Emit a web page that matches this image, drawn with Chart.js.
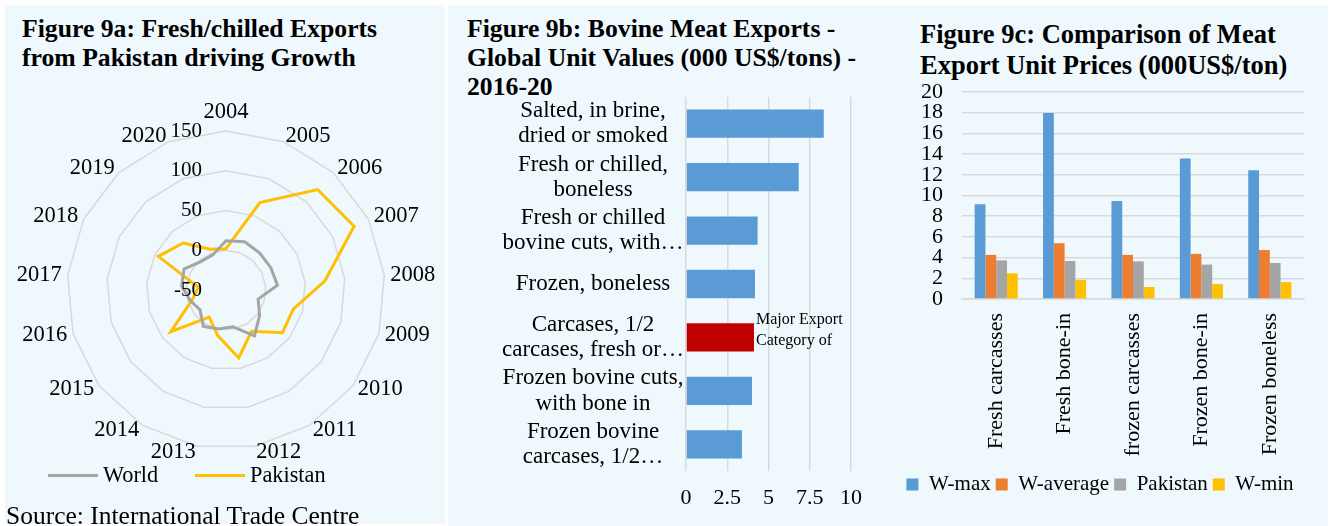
<!DOCTYPE html>
<html lang="en">
<head>
<meta charset="UTF-8">
<title>Figure 9a-9c</title>
<script src="https://cdn.jsdelivr.net/npm/chart.js"></script>
<style>
  body { margin: 0; background: #fff; width: 1333px; height: 526px; position: relative; overflow: hidden;
         font-family: "Liberation Serif", "Times New Roman", serif; }
  .panel { position: absolute; background: #EEF8FD; }
  .title { position: absolute; font-weight: bold; font-size: 25.7px; line-height: 29px; color: #000; white-space: nowrap; }
  canvas { position: absolute; }
  .source { position: absolute; left: 6px; top: 501px; font-size: 25.5px; line-height: 29px; white-space: nowrap; }
  .lg-line { position: absolute; height: 3px; width: 50px; }
  .lg-text { position: absolute; font-size: 22.3px; line-height: 26px; white-space: nowrap; }
</style>
</head>
<body>
<div class="panel" style="left:5px;top:5px;width:440px;height:519px"></div>
<div class="panel" style="left:448px;top:5px;width:880px;height:521px"></div>

<div class="title" style="left:22px;top:14px">Figure 9a: Fresh/chilled Exports<br>from Pakistan driving Growth</div>
<div class="title" style="left:467px;top:14px">Figure 9b: Bovine Meat Exports -<br>Global Unit Values (000 US$/tons) -<br>2016-20</div>
<div class="title" style="left:920px;top:19px;font-size:26.5px;line-height:31px">Figure 9c: Comparison of Meat<br>Export Unit Prices (000US$/ton)</div>

<canvas id="radar" width="452" height="400" style="left:0px;top:89px"></canvas>
<canvas id="unitBars" width="420" height="425" style="left:455px;top:90px"></canvas>
<canvas id="compare" width="437" height="440" style="left:896px;top:80px"></canvas>

<!-- legend of figure 9a -->
<div class="lg-line" style="left:48px;top:474px;background:#A5A5A5"></div>
<div class="lg-text" style="left:103px;top:462px">World</div>
<div class="lg-line" style="left:195px;top:474px;background:#FFC000"></div>
<div class="lg-text" style="left:250px;top:462px">Pakistan</div>

<div class="source">Source: International Trade Centre</div>

<script>
// ---- data ----
const years = ['2004','2005','2006','2007','2008','2009','2010','2011','2012','2013','2014','2015','2016','2017','2018','2019','2020'];
const worldGrowth = [12, 15, 13, 13, 15, -8, 3, 18, -3, 0, 4, -9, -3, 6, 9, -2, -3];
const pakistanGrowth = [2, 68, 121, 130, 75, 38, 39, 11, 37, 8, -10, 37, -6, -15, 45, 30, 5];

const products = [
  ['Salted, in brine,', 'dried or smoked'],
  ['Fresh or chilled,', 'boneless'],
  ['Fresh or chilled', 'bovine cuts, with\u2026'],
  'Frozen, boneless',
  ['Carcases, 1/2', 'carcases, fresh or\u2026'],
  ['Frozen bovine cuts,', 'with bone in'],
  ['Frozen bovine', 'carcases, 1/2\u2026']
];
const unitValues = [8.35, 6.83, 4.34, 4.18, 4.12, 4.0, 3.39];
const majorIndex = 4;

const meatCats = ['Fresh carcasses', 'Fresh bone-in', 'frozen carcasses', 'Frozen bone-in', 'Frozen boneless'];
const wMax = [9.15, 17.96, 9.47, 13.57, 12.45];
const wAverage = [4.26, 5.39, 4.26, 4.36, 4.73];
const pakistanPrice = [3.73, 3.67, 3.64, 3.32, 3.48];
const wMin = [2.48, 1.85, 1.16, 1.44, 1.63];

const FONT = '"Liberation Serif", "Times New Roman", serif';
Chart.defaults.font.family = FONT;
Chart.defaults.color = '#000';
Chart.defaults.animation = false;
const GRID = '#d9d9d9';

// radar: value labels left of the vertical axis, year labels next to each corner
const radarText = {
  id: 'radarText',
  afterDraw(chart) {
    const s = chart.scales.r, ctx = chart.ctx;
    ctx.save();
    ctx.fillStyle = '#000';
    ctx.textBaseline = 'middle';
    ctx.font = '21px ' + FONT;
    ctx.textAlign = 'right';
    s.ticks.forEach(t => {
      ctx.fillText(t.label, s.xCenter - 24, s.yCenter - s.getDistanceFromCenterForValue(t.value));
    });
    ctx.font = '22.5px ' + FONT;
    chart.data.labels.forEach((lab, i) => {
      const p = s.getPointPosition(i, s.drawingArea + 6);
      if (i === 0) {
        ctx.textAlign = 'center';
        ctx.fillText(lab, p.x, p.y - 13);
      } else {
        ctx.textAlign = p.x > s.xCenter ? 'left' : 'right';
        ctx.fillText(lab, p.x, p.y);
      }
    });
    ctx.restore();
  }
};

new Chart(document.getElementById('radar'), {
  type: 'radar',
  data: {
    labels: years,
    datasets: [
      { label: 'World', data: worldGrowth, borderColor: '#A5A5A5', backgroundColor: '#A5A5A5', borderWidth: 3, pointRadius: 0, fill: false },
      { label: 'Pakistan', data: pakistanGrowth, borderColor: '#FFC000', backgroundColor: '#FFC000', borderWidth: 3, pointRadius: 0, fill: false }
    ]
  },
  options: {
    responsive: false,
    layout: { padding: { left: 67, right: 67, top: 42, bottom: 40 } },
    plugins: { legend: { display: false }, tooltip: { enabled: false } },
    scales: {
      r: {
        min: -50, max: 150,
        ticks: { stepSize: 50, display: false },
        grid: { color: GRID, lineWidth: 1.5 },
        angleLines: { display: false },
        pointLabels: { display: false }
      }
    }
  },
  plugins: [radarText]
});

// label beside the red bar
const majorNote = {
  id: 'majorNote',
  afterDatasetsDraw(chart) {
    const bar = chart.getDatasetMeta(0).data[majorIndex];
    const ctx = chart.ctx;
    ctx.save();
    ctx.font = '16px ' + FONT;
    ctx.fillStyle = '#000';
    ctx.textBaseline = 'middle';
    ctx.fillText('Major Export', bar.x + 2, bar.y - 18);
    ctx.fillText('Category of', bar.x + 2, bar.y + 3);
    ctx.restore();
  }
};

new Chart(document.getElementById('unitBars'), {
  type: 'bar',
  data: {
    labels: products,
    datasets: [{
      data: unitValues,
      backgroundColor: unitValues.map((v, i) => i === majorIndex ? '#C00000' : '#5B9BD5'),
      barPercentage: 0.53, categoryPercentage: 1
    }]
  },
  options: {
    indexAxis: 'y',
    responsive: false,
    layout: { padding: { left: 0, right: 24, top: 7, bottom: 0 } },
    plugins: { legend: { display: false }, tooltip: { enabled: false } },
    scales: {
      x: {
        min: 0, max: 10,
        ticks: { stepSize: 2.5, font: { size: 22 }, padding: 14 },
        grid: { color: GRID, lineWidth: 1.5, drawTicks: false },
        border: { display: false },
        afterFit: s => { s.height = 44; s.paddingLeft = 0; s.paddingRight = 0; }
      },
      y: {
        ticks: { autoSkip: false, font: { size: 23, lineHeight: 1.1 }, padding: 2, crossAlign: 'center' },
        grid: { display: false, drawTicks: false },
        border: { display: false },
        afterFit: s => { s.width = 231; s.paddingTop = 0; s.paddingBottom = 0; }
      }
    }
  },
  plugins: [majorNote]
});

new Chart(document.getElementById('compare'), {
  type: 'bar',
  data: {
    labels: meatCats,
    datasets: [
      { label: 'W-max', data: wMax, backgroundColor: '#5B9BD5' },
      { label: 'W-average', data: wAverage, backgroundColor: '#ED7D31' },
      { label: 'Pakistan', data: pakistanPrice, backgroundColor: '#A5A5A5' },
      { label: 'W-min', data: wMin, backgroundColor: '#FFC000' }
    ]
  },
  options: {
    responsive: false,
    datasets: { bar: { categoryPercentage: 0.63, barPercentage: 1 } },
    layout: { padding: { left: 0, right: 29, top: 12, bottom: 15 } },
    plugins: {
      tooltip: { enabled: false },
      legend: {
        position: 'bottom',
        labels: { boxWidth: 12, boxHeight: 12, font: { size: 21 }, padding: 5 }
      }
    },
    scales: {
      x: {
        ticks: { font: { size: 22 }, minRotation: 90, maxRotation: 90, padding: 14 },
        grid: { display: false, drawTicks: false },
        border: { color: GRID, width: 1.5 },
        afterFit: s => { s.height = 170; s.paddingLeft = 0; s.paddingRight = 0; }
      },
      y: {
        min: 0, max: 20,
        ticks: { stepSize: 2, autoSkip: false, font: { size: 22 }, padding: 19 },
        grid: { color: GRID, lineWidth: 1.5, drawTicks: false },
        border: { display: false },
        afterFit: s => { s.width = 66; s.paddingTop = 0; s.paddingBottom = 0; }
      }
    }
  }
});
</script>
</body>
</html>
